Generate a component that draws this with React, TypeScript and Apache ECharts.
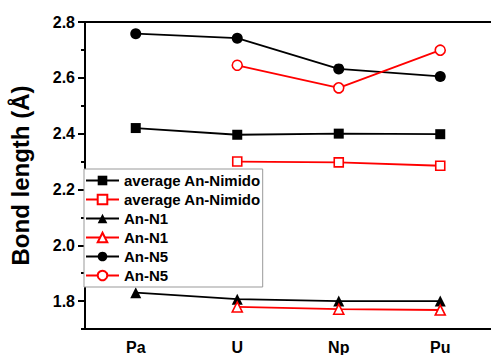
import React, { useEffect, useRef } from "react";
import * as echarts from "echarts";

const categories = ["Pa", "U", "Np", "Pu"];
const avgNimidoBlack = [2.42, 2.396, 2.4, 2.398];
const avgNimidoRed = [null, 2.3, 2.297, 2.285];
const anN1Black = [1.83, 1.807, 1.8, 1.8];
const anN1Red = [null, 1.779, 1.771, 1.768];
const anN5Black = [2.758, 2.742, 2.632, 2.605];
const anN5Red = [null, 2.645, 2.564, 2.699];
const yMajorTicks = [1.8, 2.0, 2.2, 2.4, 2.6, 2.8];
const yMinorTicks = [1.7, 1.9, 2.1, 2.3, 2.5, 2.7];

const legendLabels: Record<string, string> = {
  avgB: "average An-Nimido",
  avgR: "average An-Nimido",
  n1B: "An-N1",
  n1R: "An-N1",
  n5B: "An-N5",
  n5R: "An-N5",
};

export default function App() {
  const ref = useRef<HTMLDivElement>(null);
  useEffect(() => {
    if (!ref.current) return;
    const chart = echarts.init(ref.current, null, { renderer: "svg" });
    const font = "Arial, 'Liberation Sans', sans-serif";
    const mk = (name: string, data: any[], symbol: string, red: boolean, size: number) => ({
      name,
      type: "line",
      data,
      symbol,
      symbolSize: size,
      showSymbol: true,
      connectNulls: false,
      lineStyle: { color: red ? "#ff0000" : "#000000", width: 1.8 },
      itemStyle: red
        ? { color: "#ffffff", borderColor: "#ff0000", borderWidth: 1.6 }
        : { color: "#000000", borderColor: "#000000", borderWidth: 0 },
      z: 3,
    });
    chart.setOption({
      animation: false,
      grid: { left: 83, top: 22, bottom: 26, right: -10, containLabel: false },
      legend: {
        orient: "vertical",
        left: 84,
        top: 169,
        padding: [4, 2, 4, 1],
        itemWidth: 33,
        itemHeight: 12,
        itemGap: 4,
        backgroundColor: "#ffffff",
        borderColor: "#999999",
        borderWidth: 1,
        borderRadius: 0,
        formatter: (n: string) => legendLabels[n] || n,
        textStyle: { fontFamily: font, fontWeight: "bold", fontSize: 15, lineHeight: 15, color: "#000" },
        data: ["avgB", "avgR", "n1B", "n1R", "n5B", "n5R"],
        z: 10,
      },
      xAxis: [
        {
          type: "category",
          data: categories,
          boundaryGap: true,
          position: "bottom",
          axisLine: { lineStyle: { color: "#000", width: 2 } },
          axisTick: { alignWithLabel: true, length: 6, lineStyle: { color: "#000", width: 2 } },
          axisLabel: { fontFamily: font, fontWeight: "bold", fontSize: 16, color: "#000", margin: 10 },
          splitLine: { show: false },
        },
        {
          type: "category",
          data: categories,
          position: "top",
          axisLine: { lineStyle: { color: "#000", width: 2 } },
          axisTick: { show: false },
          axisLabel: { show: false },
          splitLine: { show: false },
        },
      ],
      yAxis: [
        {
          type: "value",
          min: 1.7,
          max: 2.8,
          position: "left",
          axisLine: { show: true, lineStyle: { color: "#000", width: 2 } },
          axisTick: { show: true, length: 7, customValues: yMajorTicks, lineStyle: { color: "#000", width: 2 } },
          axisLabel: {
            customValues: yMajorTicks,
            formatter: (v: number) => v.toFixed(1),
            fontFamily: font,
            fontWeight: "bold",
            fontSize: 16,
            color: "#000",
            margin: 10,
          },
          splitLine: { show: false },
          name: "Bond length (Å)",
          nameLocation: "middle",
          nameGap: 53,
          nameTextStyle: { fontFamily: font, fontWeight: "bold", fontSize: 24, color: "#000" },
        },
        {
          type: "value",
          min: 1.7,
          max: 2.8,
          position: "left",
          axisLine: { show: false },
          axisTick: { show: true, length: 4, customValues: yMinorTicks, lineStyle: { color: "#000", width: 2 } },
          axisLabel: { show: false },
          splitLine: { show: false },
        },
      ],
      series: [
        mk("avgB", avgNimidoBlack, "rect", false, 10),
        mk("avgR", avgNimidoRed, "rect", true, 9),
        mk("n1B", anN1Black, "triangle", false, 11),
        mk("n1R", anN1Red, "triangle", true, 10),
        mk("n5B", anN5Black, "circle", false, 11),
        mk("n5R", anN5Red, "circle", true, 10),
      ],
    });
    return () => chart.dispose();
  }, []);
  return (
    <div
      ref={ref}
      style={{ position: "fixed", left: 0, top: 0, width: 491, height: 355, background: "#fff" }}
    />
  );
}
